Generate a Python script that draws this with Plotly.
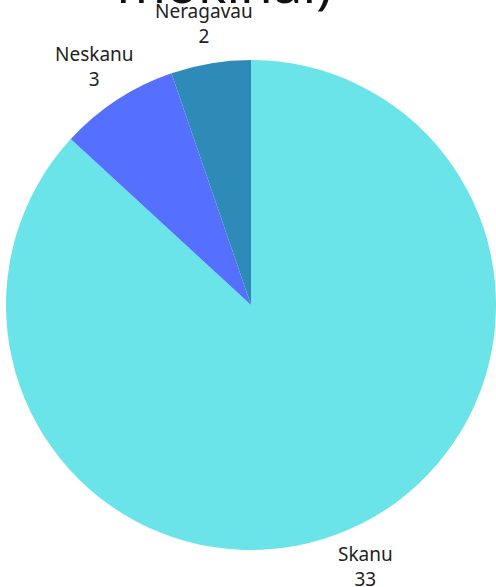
import math
import plotly.graph_objects as go

labels = ["Skanu", "Neskanu", "Neragavau"]
values = [33, 3, 2]
colors = ["#6AE4E8", "#5570FF", "#2E8BB8"]
title_text = "Ar skanus maistas? (visi<br>mokinai)"

W, H = 496, 587
ML, MR, MT, MB = 6, 0, 60, 37

fig = go.Figure(go.Pie(
    labels=labels,
    values=values,
    sort=False,
    direction="clockwise",
    rotation=0,
    marker=dict(colors=colors, line=dict(width=0)),
    textinfo="none",
    showlegend=False,
    hoverinfo="label+value+percent",
))

# outside labels placed along each slice's mid-angle (derived from the data)
total = sum(values)
cum = 0.0
LABEL_R = 1.165
for lab, val in zip(labels, values):
    mid = (cum + val / 2) / total * 2 * math.pi
    cum += val
    fig.add_annotation(
        x=0.5 + 0.5 * LABEL_R * math.sin(mid),
        y=0.5 + 0.5 * LABEL_R * math.cos(mid),
        xref="paper", yref="paper",
        text=f"{lab}<br>{val}",
        showarrow=False,
        xanchor="center", yanchor="middle",
        font=dict(size=19, color="#222222", family="Noto Sans"),
    )

# title, mostly above the visible page
fig.add_annotation(
    x=(224 - ML) / (W - ML - MR), xref="paper",
    y=1 + (MT - 21) / (H - MT - MB), yref="paper",
    text=title_text, showarrow=False,
    xanchor="center", yanchor="bottom",
    font=dict(size=53, color="#111111", family="Noto Sans"),
)

fig.update_layout(
    width=W, height=H,
    margin=dict(l=ML, r=MR, t=MT, b=MB),
    paper_bgcolor="white",
    plot_bgcolor="white",
    font=dict(family="Noto Sans", color="#222222"),
)

fig.write_html(
    "out.html",
    config={"displayModeBar": False},
    post_script="document.body.style.margin='0';document.body.style.overflow='hidden';",
)
